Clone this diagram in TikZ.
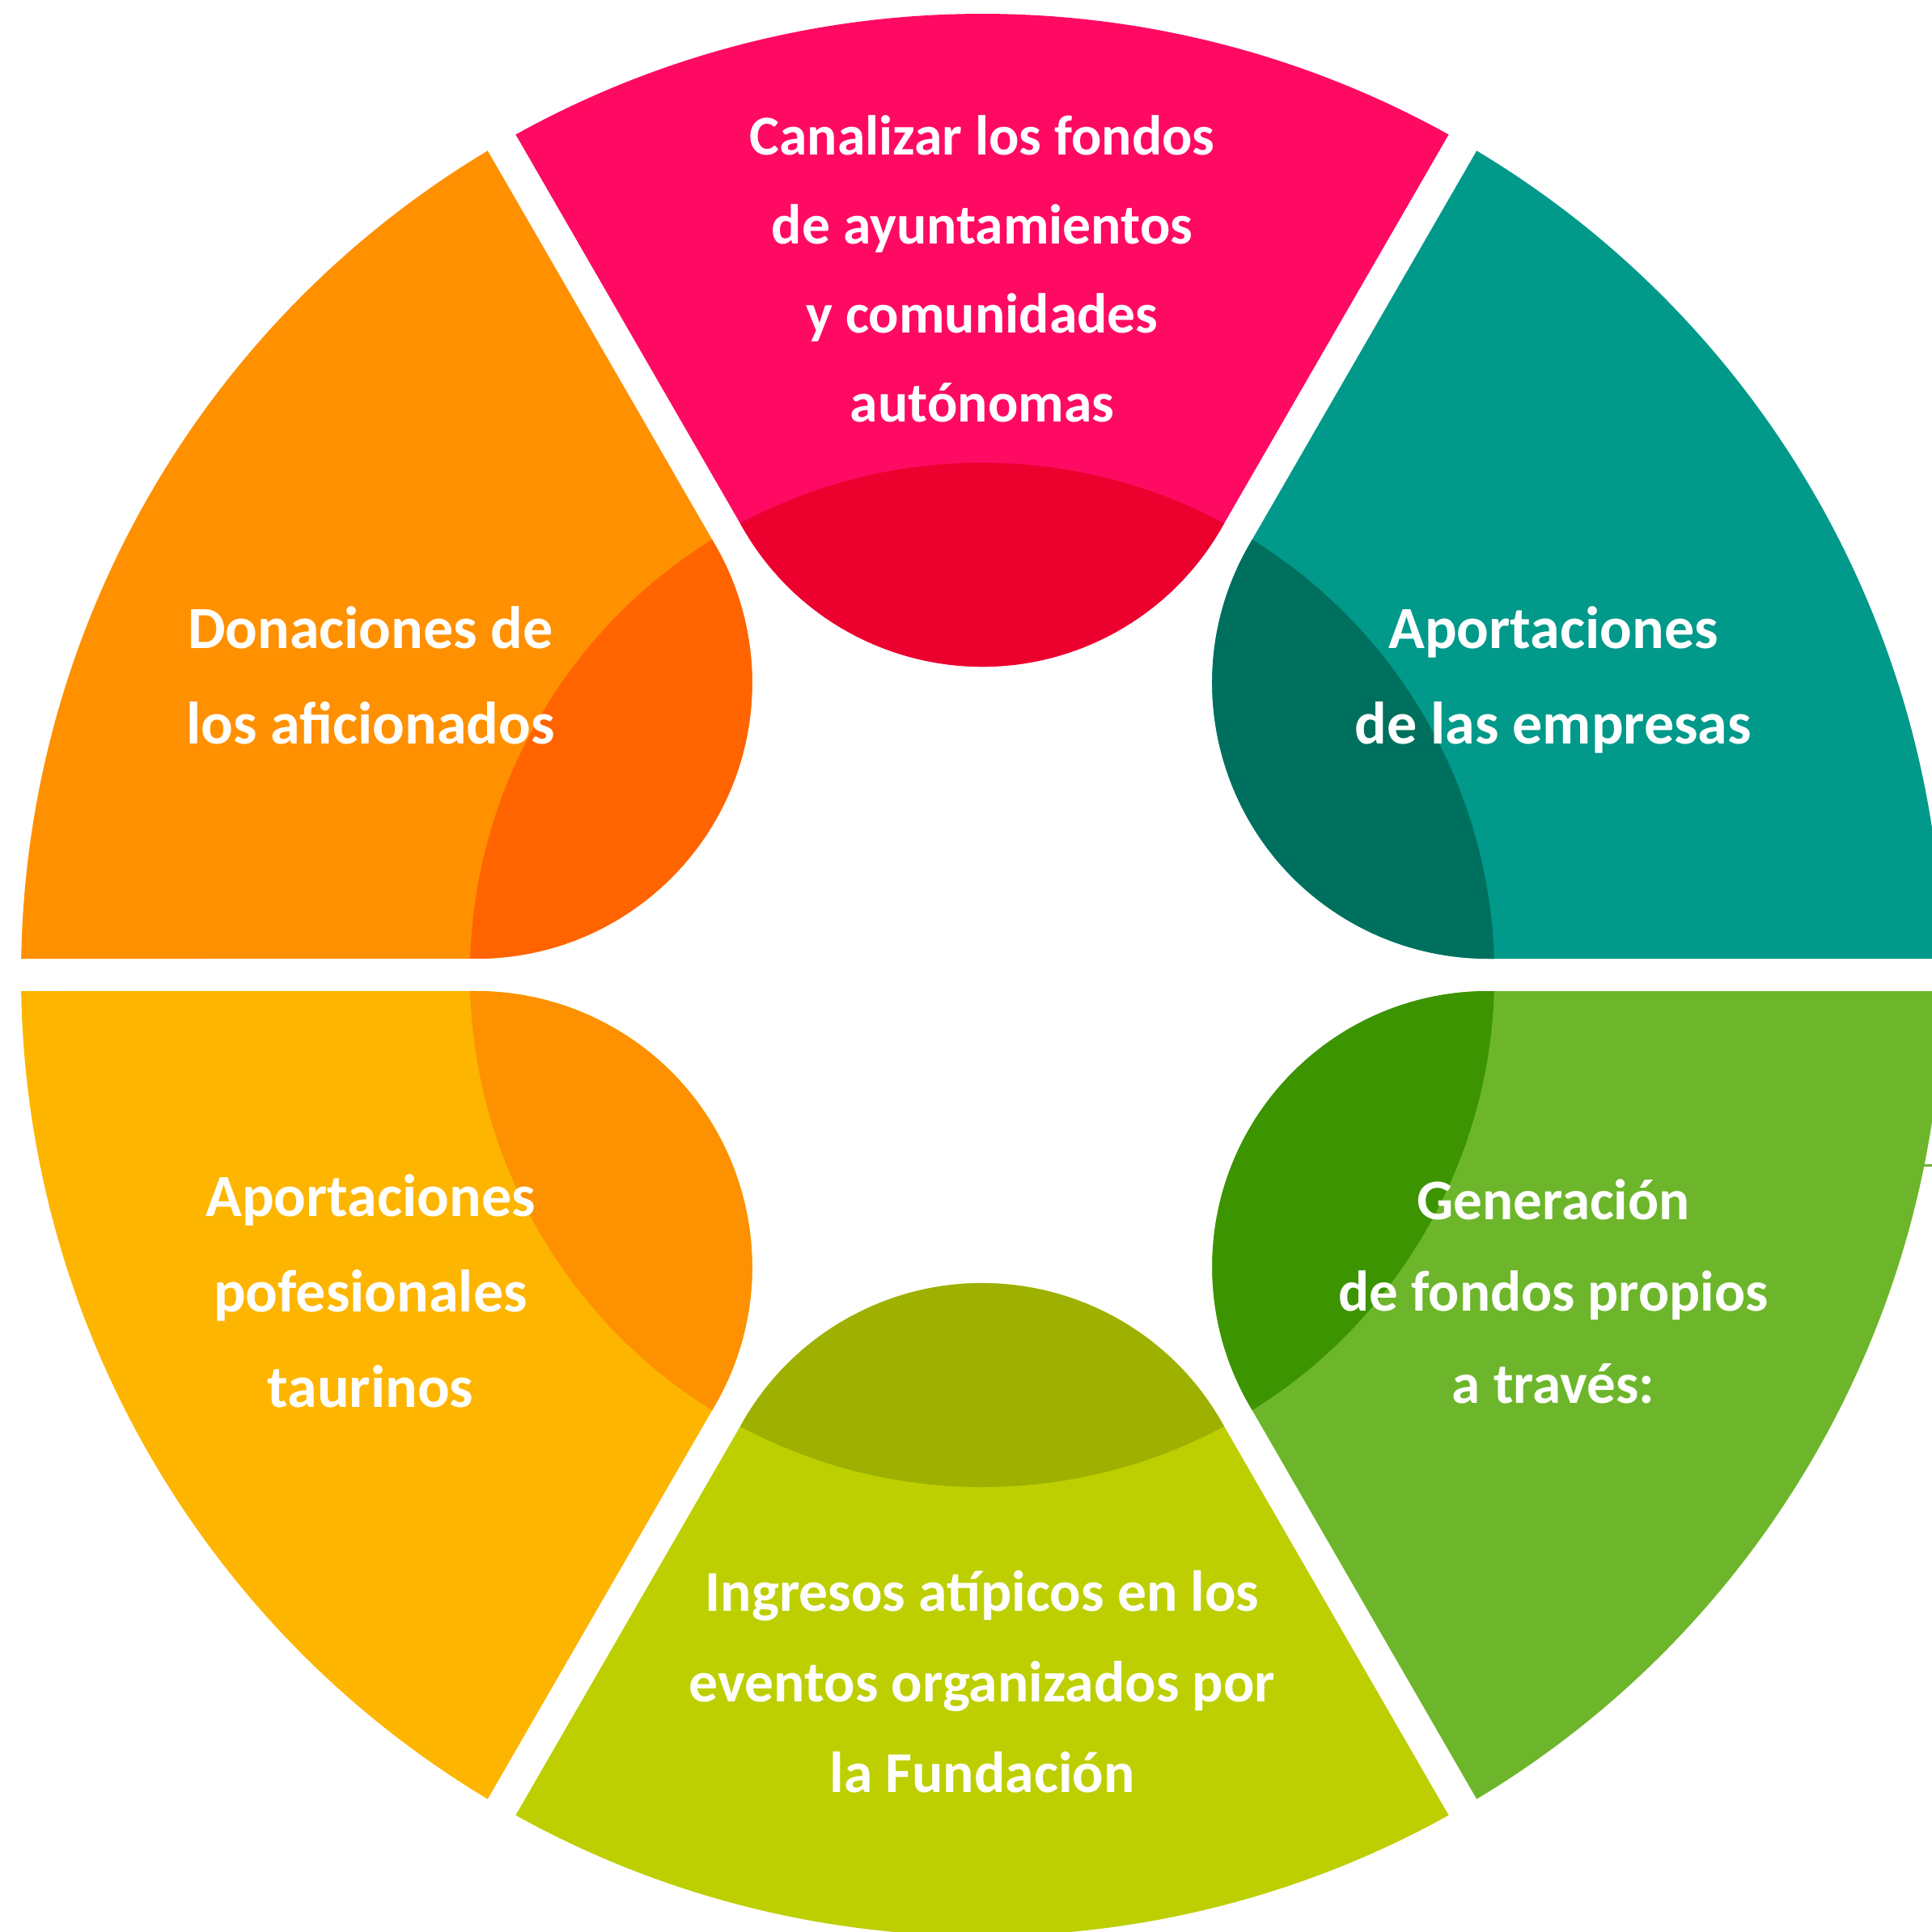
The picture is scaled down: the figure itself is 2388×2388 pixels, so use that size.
\documentclass[tikz,border=0pt]{standalone}
\usepackage{fontspec}
\newfontfamily\labfont{Carlito}
\definecolor{pinkA}{RGB}{255,10,99}
\definecolor{pinkB}{RGB}{236,0,46}
\definecolor{tealA}{RGB}{0,153,138}
\definecolor{tealB}{RGB}{0,112,94}
\definecolor{grnA}{RGB}{109,182,43}
\definecolor{grnB}{RGB}{60,148,0}
\definecolor{ygA}{RGB}{189,207,0}
\definecolor{ygB}{RGB}{158,176,0}
\definecolor{yelA}{RGB}{253,181,0}
\definecolor{yelB}{RGB}{253,145,0}
\definecolor{orgA}{RGB}{255,144,0}
\definecolor{orgB}{RGB}{255,100,0}
\begin{document}
\begin{tikzpicture}[x=0.25pt,y=0.25pt,
  segp/.style={insert path={(-295.31,551.5) arc[start angle=210,end angle=330,radius=341]
     -- (60.965:1188) arc[start angle=60.965,end angle=119.035,radius=1188] -- cycle}},
  lab/.style={text=white, align=center, anchor=base, inner sep=0pt}]
\useasboundingbox (-1214,-1183) rectangle (1174,1205);
\foreach \rot/\ca/\cb in {0/pinkA/pinkB, -60/tealA/tealB, -120/grnA/grnB,
                          180/ygA/ygB, 120/yelA/yelB, 60/orgA/orgB}{
  \begin{scope}[rotate=\rot]
    \fill[\ca, segp];
    \begin{scope}
      \clip[segp];
      \fill[\cb] (0,0) circle[radius=633];
    \end{scope}
  \end{scope}
}
\fill[grnA] (1164,-236.5) rectangle (1174,-233.5);
\node[lab, font={\labfont\bfseries\fontsize{17.4}{27.5}\selectfont}] (ltop) at (0,683)
  {Canalizar los fondos\\de ayuntamientos\\y comunidades\\autónomas};
\node[lab, font={\labfont\bfseries\fontsize{18.5}{29.6}\selectfont}] (lul) at (-756,285)
  {Donaciones de\\los aficionados};
\node[lab, font={\labfont\bfseries\fontsize{18.5}{29.6}\selectfont}] (lur) at (706,285)
  {Aportaciones\\de las empresas};
\node[lab, font={\labfont\bfseries\fontsize{18.5}{29.5}\selectfont}] (lll) at (-756,-534)
  {Aportaciones\\pofesionales\\taurinos};
\node[lab, font={\labfont\bfseries\fontsize{17.75}{28.3}\selectfont}] (llr) at (706,-529)
  {Generación\\de fondos propios\\a través:};
\node[lab, font={\labfont\bfseries\fontsize{17.9}{27.9}\selectfont}] (lbot) at (0,-1010)
  {Ingresos atípicos en los\\eventos organizados por\\la Fundación};
\end{tikzpicture}
\end{document}
